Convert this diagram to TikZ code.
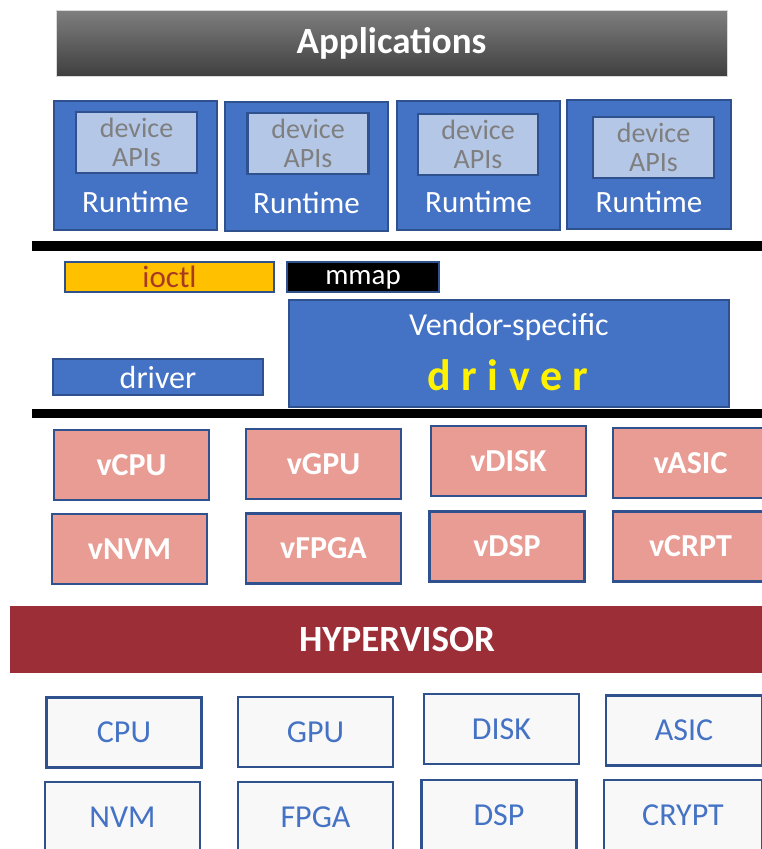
\documentclass[tikz,border=0pt]{standalone}
\usepackage{fontspec}
\setmainfont{Carlito}
\usetikzlibrary{positioning}

\definecolor{boxblue}{HTML}{4472C4}
\definecolor{edgeblue}{HTML}{2F528F}
\definecolor{apiblue}{HTML}{B4C7E7}
\definecolor{vpink}{HTML}{E89C94}
\definecolor{hypred}{HTML}{9C2E38}
\definecolor{ioctlorange}{HTML}{FFC000}
\definecolor{ioctltext}{HTML}{A93A22}
\definecolor{apigray}{HTML}{7F7F7F}
\definecolor{hwwhite}{HTML}{F8F8F8}
\definecolor{apptop}{HTML}{7F7F7F}
\definecolor{appbottom}{HTML}{3F3F3F}

\tikzset{
  boxbase/.style={draw=edgeblue, line width=2.5pt, inner sep=0pt, minimum width=155pt, minimum height=70pt},
  runtimebox/.style={boxbase, fill=boxblue, minimum width=163pt, minimum height=129pt},
  apibox/.style={boxbase, fill=apiblue, minimum width=121pt, minimum height=61pt, text=apigray, align=center, font=\fontsize{28}{29}\selectfont},
  vbox/.style={boxbase, fill=vpink, text=white, font=\fontsize{32}{36}\selectfont\bfseries},
  hwbox/.style={boxbase, fill=hwwhite, text=boxblue, font=\fontsize{32}{36}\selectfont},
  whitetext/.style={text=white, font=\fontsize{31}{34}\selectfont},
}

\begin{document}
\begin{tikzpicture}[x=1pt, y=-1pt]
    \useasboundingbox (0,0) rectangle (762,849);
    \clip (0,0) rectangle (762,849);

    % applications
    \node[top color=apptop, bottom color=appbottom, draw=gray!30, line width=0.8pt, minimum width=671pt, minimum height=66pt, text=white, font=\fontsize{37}{40}\selectfont\bfseries] (apps) at (391.5,43) {Applications};

    % runtimes
    \node[runtimebox] (rt1) at (135.5,165.5) {};
    \node[runtimebox] (rt2) at (306.5,166.5) {};
    \node[runtimebox] (rt3) at (478.5,165.5) {};
    \node[runtimebox, minimum width=164pt] (rt4) at (649,164.5) {};
    \node[apibox] (api1) at (136.5,142.5) {device\\APIs};
    \node[apibox] (api2) at (308,143.5) {device\\APIs};
    \node[apibox, minimum width=120pt] (api3) at (478,144.5) {device\\APIs};
    \node[apibox] (api4) at (653.5,147.5) {device\\APIs};
    \node[whitetext] (rtl1) at (135.5,202) {Runtime};
    \node[whitetext] (rtl2) at (306.5,203) {Runtime};
    \node[whitetext] (rtl3) at (478.5,202) {Runtime};
    \node[whitetext] (rtl4) at (649,202) {Runtime};

    \fill (32,241) rectangle (762,251);

    % kernel side
    \node[boxbase, fill=ioctlorange, line width=1.8pt, minimum width=209pt, minimum height=30pt, text=ioctltext, font=\fontsize{31}{30}\selectfont] (ioctl) at (169.5,277) {ioctl};
    \node[boxbase, fill=black, line width=1.8pt, minimum width=152pt, minimum height=30pt, text depth=0pt, text=white, font=\fontsize{29}{30}\selectfont] (mmap) at (363,277) {mmap};
    \node[boxbase, fill=boxblue, minimum width=210pt, minimum height=36pt, whitetext, font=\fontsize{32}{34}\selectfont] (drv) at (158,377) {driver};
    \node[boxbase, fill=boxblue, minimum width=440pt, minimum height=107pt] (vendor) at (509,353.5) {};
    \node[whitetext, font=\fontsize{32}{34}\selectfont] (vendortxt) at (509,327) {Vendor-specific};
    \node[text=yellow, font=\fontsize{44}{44}\selectfont\bfseries\addfontfeature{LetterSpace=24}] (vendordrv) at (508,375) {driver};

    \fill (32,409) rectangle (762,418);

    % virtual devices
    \node[vbox] (vcpu) at (131.5,465) {vCPU};
    \node[vbox] (vgpu) at (323.5,464) {vGPU};
    \node[vbox] (vdisk) at (508.5,461) {vDISK};
    \node[vbox] (vasic) at (690.5,463) {vASIC};
    \node[vbox] (vnvm) at (129.5,549) {vNVM};
    \node[vbox] (vfpga) at (323.5,548.5) {vFPGA};
    \node[vbox] (vdsp) at (507,546.5) {vDSP};
    \node[vbox] (vcrpt) at (690.5,546.5) {vCRPT};

    \node[fill=hypred, minimum width=774pt, minimum height=67pt, inner sep=0pt, text=white, font=\fontsize{37}{40}\selectfont\bfseries] (hyp) at (397,639.5) {HYPERVISOR};

    % hardware
    \node[hwbox] (cpu) at (124,732.5) {CPU};
    \node[hwbox] (gpu) at (315.5,732) {GPU};
    \node[hwbox] (disk) at (501.5,729) {DISK};
    \node[hwbox, minimum width=156pt] (asic) at (684,730.5) {ASIC};
    \node[hwbox] (nvm) at (122.5,817) {NVM};
    \node[hwbox] (fpga) at (315.5,817) {FPGA};
    \node[hwbox] (dsp) at (499,815) {DSP};
    \node[hwbox, minimum width=158pt] (crypt) at (683,815) {CRYPT};
\end{tikzpicture}
\end{document}
